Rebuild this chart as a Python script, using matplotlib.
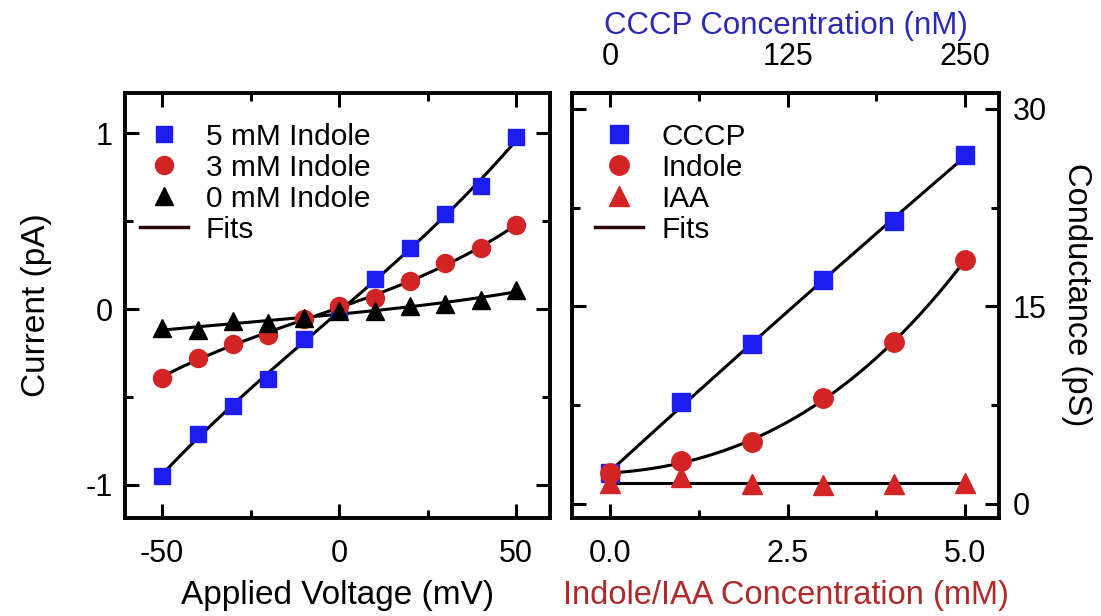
import numpy as np
import matplotlib
matplotlib.use("Agg")
import matplotlib.pyplot as plt
from matplotlib.ticker import MultipleLocator, FormatStrFormatter
from matplotlib.lines import Line2D

plt.rcParams['font.family'] = ['Liberation Sans', 'DejaVu Sans']
plt.rcParams['axes.unicode_minus'] = False

# left panel: I-V curves
voltage = np.array([-50, -40, -30, -20, -10, 0, 10, 20, 30, 40, 50])
cur_5mM = np.array([-0.95, -0.71, -0.55, -0.40, -0.17, -0.01, 0.17, 0.35, 0.54, 0.70, 0.98])
cur_3mM = np.array([-0.39, -0.28, -0.20, -0.15, -0.055, 0.02, 0.065, 0.16, 0.26, 0.35, 0.48])
cur_0mM = np.array([-0.11, -0.12, -0.07, -0.08, -0.05, -0.01, -0.01, 0.02, 0.03, 0.05, 0.11])

# right panel: conductance vs concentration
conc = np.array([0, 1, 2, 3, 4, 5])
g_cccp = np.array([2.3, 7.7, 12.1, 17.0, 21.5, 26.5])
g_indole = np.array([2.3, 3.2, 4.7, 8.0, 12.3, 18.5])
g_iaa = np.array([1.6, 2.0, 1.5, 1.4, 1.5, 1.6])

blue = '#1d1df0'
red = '#d22424'
fs = 22      # tick labels
lfs = 24     # axis labels
legfs = 21.5

fig = plt.figure(figsize=(11.01, 6.16), dpi=100)
ax1 = fig.add_axes([0.1135, 0.159, 0.386, 0.69])
ax2 = fig.add_axes([0.5195, 0.159, 0.388, 0.69])

def style(ax):
    for s in ax.spines.values():
        s.set_linewidth(2.8)
    ax.tick_params(which='major', direction='in', length=10, width=2.2, labelsize=fs)
    ax.tick_params(which='minor', direction='in', length=6, width=2.2)

# ---- left
vv = np.linspace(-50, 50, 200)
for y in [cur_5mM, cur_3mM, cur_0mM]:
    p = np.polyfit(voltage, y, 3)
    ax1.plot(vv, np.polyval(p, vv), color='black', lw=2.2, zorder=2)
ax1.plot(voltage, cur_5mM, 's', color=blue, ms=12, label='5 mM Indole', zorder=3)
ax1.plot(voltage, cur_3mM, 'o', color=red, ms=13, label='3 mM Indole', zorder=3)
ax1.plot(voltage, cur_0mM, '^', color='black', ms=13, label='0 mM Indole', zorder=3)
ax1.set_xlim(-60.5, 59.5)
ax1.set_ylim(-1.19, 1.23)
ax1.xaxis.set_major_locator(MultipleLocator(50))
ax1.xaxis.set_minor_locator(MultipleLocator(25))
ax1.yaxis.set_major_locator(MultipleLocator(1))
ax1.yaxis.set_minor_locator(MultipleLocator(0.5))
style(ax1)
ax1.tick_params(which='both', top=True, right=True)
ax1.tick_params(axis='x', which='major', pad=15)
ax1.tick_params(axis='y', which='major', pad=9)
ax1.set_xlabel('Applied Voltage (mV)', fontsize=lfs, labelpad=8)
ax1.set_ylabel('Current (pA)', fontsize=lfs, labelpad=24)
h, l = ax1.get_legend_handles_labels()
h.append(Line2D([], [], color='#2a0a0a', lw=2.5))
l.append('Fits')
ax1.legend(h, l, loc='upper left', frameon=False, fontsize=legfs, labelspacing=0.1,
           handlelength=1.6, handletextpad=0.6, borderaxespad=0.1, bbox_to_anchor=(0.0, 0.965))

# ---- right
cc = np.linspace(0, 5, 200)
for y, d in [(g_cccp, 2), (g_indole, 3)]:
    p = np.polyfit(conc, y, d)
    ax2.plot(cc, np.polyval(p, cc), color='black', lw=2.2, zorder=2)
ax2.plot(cc, np.full_like(cc, g_iaa.mean()), color='black', lw=2.2, zorder=2)
ax2.plot(conc, g_cccp, 's', color=blue, ms=13, label='CCCP', zorder=3)
ax2.plot(conc, g_indole, 'o', color=red, ms=14, label='Indole', zorder=3)
ax2.plot(conc, g_iaa, '^', color=red, ms=15, label='IAA', zorder=3)
ax2.set_xlim(-0.54, 5.48)
ax2.set_ylim(-1.1, 31.2)
ax2.xaxis.set_major_locator(MultipleLocator(2.5))
ax2.xaxis.set_minor_locator(MultipleLocator(1.25))
ax2.xaxis.set_major_formatter(FormatStrFormatter('%.1f'))
ax2.yaxis.set_major_locator(MultipleLocator(15))
ax2.yaxis.set_minor_locator(MultipleLocator(7.5))
style(ax2)
ax2.tick_params(which='both', left=True, right=True, labelleft=False, labelright=True, top=False)
ax2.tick_params(axis='x', which='major', pad=15)
ax2.tick_params(axis='y', which='major', pad=10)
ax2.yaxis.set_label_position('right')
ax2.set_ylabel('Conductance (pS)', fontsize=23.5, rotation=270, labelpad=32)
ax2.yaxis.label.set_y(0.525)
ax2.set_xlabel('Indole/IAA Concentration (mM)', fontsize=23.5, color='#b02a2a', labelpad=8)
sec = ax2.secondary_xaxis('top', functions=(lambda x: x * 50, lambda x: x / 50))
sec.xaxis.set_major_locator(MultipleLocator(125))
sec.xaxis.set_minor_locator(MultipleLocator(62.5))
sec.spines['top'].set_linewidth(2.8)
sec.tick_params(which='major', direction='in', length=10, width=2.2, labelsize=fs, pad=15)
sec.tick_params(which='minor', direction='in', length=6, width=2.2)
sec.set_xlabel('CCCP Concentration (nM)', fontsize=22.5, color='#2a2ab4', labelpad=6)
h, l = ax2.get_legend_handles_labels()
h.append(Line2D([], [], color='#2a0a0a', lw=2.5))
l.append('Fits')
ax2.legend(h, l, loc='upper left', frameon=False, fontsize=legfs, labelspacing=0.1,
           handlelength=1.6, handletextpad=0.6, borderaxespad=0.1, bbox_to_anchor=(0.02, 0.965))

fig.savefig('out.png', dpi=100)
